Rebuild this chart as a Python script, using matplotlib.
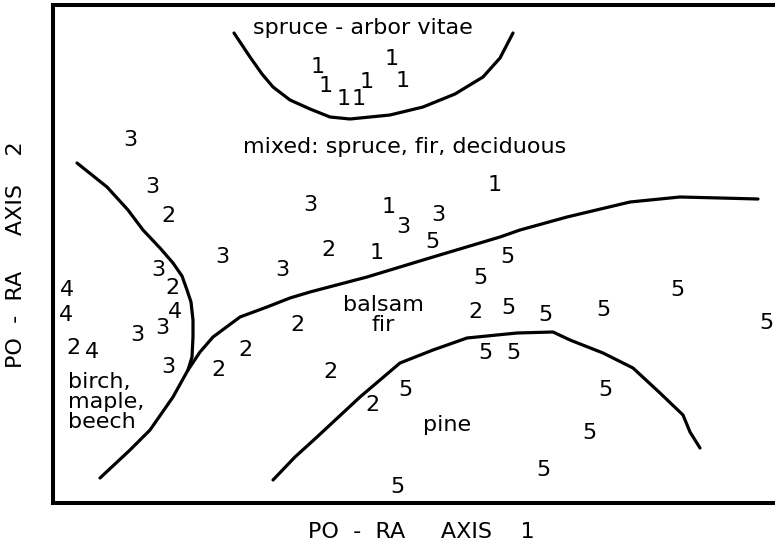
import matplotlib
matplotlib.use("Agg")
import matplotlib.pyplot as plt

# ordination scores (pixel-like units, y grows downward)
pts_1 = [(318, 67), (326, 86), (344, 99), (359, 99), (367, 82), (392, 59), (403, 81),
         (389, 207), (495, 185), (377, 253)]
pts_2 = [(168, 216), (172, 288), (73, 348), (245, 350), (218, 370), (328, 250),
         (297, 325), (330, 372), (372, 405), (475, 312)]
pts_3 = [(130, 140), (152, 187), (158, 270), (222, 257), (282, 270), (310, 205),
         (162, 328), (137, 335), (168, 367), (403, 227), (438, 215)]
pts_4 = [(67, 290), (66, 315), (92, 352), (175, 312)]
pts_5 = [(432, 242), (507, 257), (480, 278), (508, 308), (545, 315), (603, 310),
         (677, 290), (766, 323), (485, 353), (513, 353), (405, 390), (605, 390),
         (589, 433), (543, 470), (397, 487)]

# hand drawn boundaries between the forest groups
spruce_line = [(234, 33), (250, 57), (262, 74), (273, 87), (290, 100), (310, 109),
               (330, 117), (350, 119), (390, 115), (423, 107), (455, 94), (483, 77),
               (500, 58), (513, 33)]
birch_line = [(77, 163), (107, 187), (128, 210), (143, 230), (160, 248), (173, 263),
              (182, 276), (187, 290), (191, 302), (193, 320), (193, 337), (192, 357),
              (188, 370), (173, 397), (150, 430), (130, 450), (100, 478)]
fir_line = [(188, 370), (200, 352), (213, 337), (240, 317), (267, 307), (290, 298),
            (310, 292), (367, 277), (433, 257), (500, 237), (520, 230), (567, 217),
            (630, 202), (680, 197), (720, 198), (758, 199)]
pine_line = [(273, 480), (295, 457), (317, 437), (360, 397), (400, 363), (433, 350),
             (467, 338), (517, 333), (553, 332), (570, 340), (603, 353), (633, 368),
             (660, 393), (683, 415), (690, 432), (700, 448)]

region_names = ["spruce - arbor vitae", "mixed: spruce, fir, deciduous", "balsam\nfir",
                "pine", "birch,\nmaple,\nbeech"]
region_pos = [(363, 28), (405, 147), (383, 315), (447, 425), (68, 402)]
region_ha = ["center", "center", "center", "center", "left"]

fig = plt.figure(figsize=(7.75, 5.52), dpi=100)
ax = fig.add_axes([53 / 775, 1 - 503 / 552, 1 - 53 / 775, 498 / 552])
ax.set_xlim(53, 775)
ax.set_ylim(503, 5)
ax.set_xticks([])
ax.set_yticks([])
for s in ["left", "top", "bottom"]:
    ax.spines[s].set_linewidth(2.9)
ax.spines["right"].set_visible(False)

for line in [spruce_line, birch_line, fir_line, pine_line]:
    xs, ys = zip(*line)
    ax.plot(xs, ys, color="black", lw=2.3, solid_capstyle="round", solid_joinstyle="round")

for lab, pts in [("1", pts_1), ("2", pts_2), ("3", pts_3), ("4", pts_4), ("5", pts_5)]:
    for x, y in pts:
        ax.text(x, y, lab, fontsize=16, ha="center", va="center")

for name, (x, y), ha in zip(region_names, region_pos, region_ha):
    ax.text(x, y, name, fontsize=16, ha=ha, va="center", linespacing=1.0)

fig.text(421 / 775, 1 - 532 / 552, "PO  -  RA     AXIS    1", fontsize=16,
         ha="center", va="center")
fig.text(16 / 775, 1 - 255 / 552, "PO  -  RA     AXIS    2", fontsize=16,
         ha="center", va="center", rotation=90)

fig.savefig("out.png", dpi=100)
